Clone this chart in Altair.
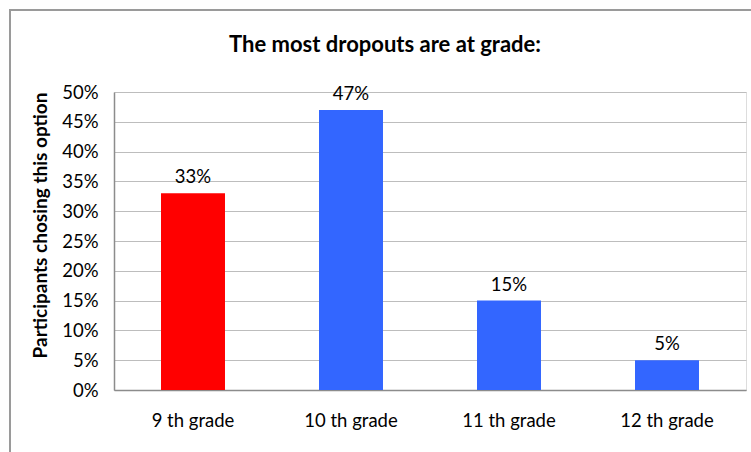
import altair as alt
import pandas as pd

grades = ["9 th grade", "10 th grade", "11 th grade", "12 th grade"]
shares = [0.33, 0.47, 0.15, 0.05]
labels = ["33%", "47%", "15%", "5%"]
bar_colors = ["#FF0000", "#3366FF", "#3366FF", "#3366FF"]
chart_title = ["The most dropouts are at grade:"]

df = pd.DataFrame({"grade": grades, "share": shares, "label": labels, "col": bar_colors})

FONT = "Lato"
LS = 18.5

x = alt.X("grade:N", sort=grades, title=None,
          scale=alt.Scale(paddingInner=0.595, paddingOuter=0.2975),
          axis=alt.Axis(labelAngle=0, ticks=False, labelPadding=21, labelFontSize=LS,
                        labelColor="#000", domainColor="#8c8c8c", domainWidth=1.5, labelFont=FONT))
y = alt.Y("share:Q", title="Participants chosing this option",
          scale=alt.Scale(domain=[0, 0.5], nice=False),
          axis=alt.Axis(format=".0%", values=[round(i * 0.05, 2) for i in range(11)], ticks=False,
                        labelPadding=16, labelFontSize=LS, labelColor="#000",
                        domainColor="#8c8c8c", domainWidth=1.5, gridColor="#bdbdbd",
                        gridWidth=1, titleFontSize=19, titleFontWeight="bold",
                        titlePadding=11, titleY=133, titleColor="#000", labelFont=FONT, titleFont=FONT))

border = alt.Chart(pd.DataFrame({"a": [0]})).mark_rect(
    fill=None, stroke="#9a9a9a", strokeWidth=2, clip=False
).encode(x=alt.value(-104), x2=alt.value(700), y=alt.value(-82), y2=alt.value(500))

title = alt.Chart(pd.DataFrame({"t": chart_title})).mark_text(
    fontSize=22, fontWeight="bold", font=FONT, color="#000", align="center", baseline="middle"
).encode(x=alt.value(271), y=alt.value(-47), text="t:N")

bars = alt.Chart(df).mark_bar().encode(
    x=x, y=y, color=alt.Color("col:N", scale=None, legend=None)
)
text = alt.Chart(df).mark_text(baseline="bottom", dy=-6, fontSize=LS, font=FONT, color="#000").encode(
    x=x, y=y, text="label:N"
)

chart = alt.layer(bars, text, border, title).properties(
    width=632, height=298,
    padding={"left": 114, "top": 92, "right": 5, "bottom": 62},
    autosize=alt.AutoSizeParams(type="none"),
).configure_view(stroke=None).configure(background="white")

chart.save("out.html", embed_options={"renderer": "svg", "actions": False})
